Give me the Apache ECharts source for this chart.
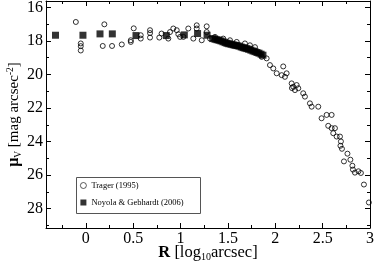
<!DOCTYPE html>
<html><head><meta charset="utf-8">
<script src="https://cdn.jsdelivr.net/npm/echarts@6/dist/echarts.min.js"></script>
<style>html,body{margin:0;padding:0;background:#fff}#c{width:374px;height:264px}</style>
</head><body><div id="c"></div>
<script>
// Trager (1995) open circles
const tragerX = [-0.105,-0.053,-0.053,-0.053,0.196,0.179,0.277,0.380,0.475,0.475,0.506,0.580,0.580,0.678,0.678,0.678,0.776,0.800,0.871,0.889,0.924,0.960,0.977,0.995,1.030,1.082,1.135,1.171,1.171,1.224,1.276,1.276,1.311,1.364,1.451,1.522,1.593,1.680,1.733,1.786,1.857,1.909,1.944,1.979,2.084,2.015,2.068,2.102,2.120,2.173,2.190,2.208,2.226,2.243,2.176,2.295,2.313,2.366,2.384,2.454,2.489,2.542,2.595,2.559,2.595,2.630,2.612,2.648,2.683,2.693,2.688,2.704,2.762,2.725,2.793,2.814,2.820,2.841,2.878,2.904,2.936,2.988];
const tragerY = [16.87,18.15,18.31,18.57,17.01,18.30,18.30,18.21,18.06,17.96,17.25,17.66,17.86,17.36,17.53,17.80,17.80,17.56,17.86,17.47,17.26,17.36,17.60,17.76,17.76,17.26,17.86,17.07,17.26,17.96,17.13,17.47,17.86,17.76,17.86,17.96,18.06,18.15,18.26,18.37,18.95,19.04,19.44,19.64,19.52,19.93,20.04,20.14,19.93,20.53,20.73,20.93,20.63,20.82,20.81,21.12,21.32,21.72,21.92,21.92,22.61,22.41,22.41,23.06,23.20,23.20,23.50,23.70,23.70,23.99,24.25,24.43,24.72,25.18,25.08,25.44,25.67,25.85,25.77,25.87,26.56,27.63];
// Noyola & Gebhardt (2006) filled squares
const noyolaX = [-0.32,-0.03,0.15,0.28,0.53,0.85,1.04,1.18,1.28,1.34,1.364,1.385,1.406,1.427,1.448,1.47,1.49,1.51,1.533,1.555,1.575,1.596,1.617,1.64,1.66,1.68,1.70,1.72,1.743,1.765,1.786,1.807,1.828,1.85,1.87];
const noyolaY = [17.66,17.66,17.58,17.58,17.68,17.68,17.64,17.56,17.66,17.86,17.90,17.93,17.96,18.00,18.05,18.10,18.14,18.17,18.20,18.23,18.26,18.28,18.31,18.36,18.40,18.43,18.46,18.50,18.55,18.60,18.64,18.69,18.73,18.79,18.85];
const seriesNames = ['Trager (1995)', 'Noyola & Gebhardt (2006)'];
const xMajorTicks = [0,0.5,1,1.5,2,2.5,3];
const xMinorTicks = [-0.25,0.25,0.75,1.25,1.75,2.25,2.75];
const yMajorTicks = [16,18,20,22,24,26,28];
const yMinorTicks = [17,19,21,23,25,27,29];
const X_MIN = -0.42, X_MAX = 3.0, Y_MIN = 15.62, Y_MAX = 29.15;

const FONT = 'Liberation Serif';
const pair = (xs, ys) => xs.map((x, i) => [x, ys[i]]);

function axis(kind, position, ticks, len, opts) {
  const a = {
    type: 'value', gridIndex: 0, position: position,
    min: kind === 'x' ? X_MIN : Y_MIN, max: kind === 'x' ? X_MAX : Y_MAX,
    axisLine: {show: !!opts.line, onZero: false, lineStyle: {color: '#000', width: 1}},
    axisTick: {show: true, inside: true, length: len, customValues: ticks, lineStyle: {color: '#000', width: 1}},
    axisLabel: {show: false},
    splitLine: {show: false}
  };
  if (kind === 'y') a.inverse = true;
  if (opts.labels) {
    a.axisLabel = {show: true, customValues: ticks, fontFamily: FONT, fontSize: 16, color: '#000', margin: 3};
  }
  if (opts.name) Object.assign(a, opts.name);
  return a;
}

const chart = echarts.init(document.getElementById('c'), null, {renderer: 'canvas'});
chart.setOption({
  animation: false,
  backgroundColor: '#fff',
  grid: {left: 46, right: 4, top: 1, bottom: 36, containLabel: false, outerBoundsMode: 'none'},
  xAxis: [
    axis('x', 'bottom', xMajorTicks, 5, {line: true, labels: true, name: {
      name: '{b|R} [log{s|10}arcsec]', nameLocation: 'middle', nameGap: 15, nameMoveOverlap: false,
      nameTextStyle: {fontFamily: FONT, fontSize: 16.5, color: '#000',
        rich: {b: {fontFamily: FONT, fontSize: 16.5, fontWeight: 'bold', color: '#000'},
               s: {fontFamily: FONT, fontSize: 10, color: '#000', padding: [9, 0, 0, 0]}}}
    }}),
    axis('x', 'bottom', xMinorTicks, 3, {}),
    axis('x', 'top', xMajorTicks, 5, {line: true}),
    axis('x', 'top', xMinorTicks, 3, {})
  ],
  yAxis: [
    axis('y', 'left', yMajorTicks, 5, {line: true, labels: true, name: {
      name: '{b|μ}{s|V} [mag arcsec{p|-2}]', nameLocation: 'middle', nameGap: 23, nameMoveOverlap: false,
      nameTextStyle: {fontFamily: FONT, fontSize: 15, color: '#000',
        rich: {b: {fontFamily: FONT, fontSize: 16, fontWeight: 'bold', color: '#000'},
               s: {fontFamily: FONT, fontSize: 9.5, color: '#000', padding: [8, 0, 0, 0]},
               p: {fontFamily: FONT, fontSize: 9.5, color: '#000', padding: [0, 0, 8, 0]}}}
    }}),
    axis('y', 'left', yMinorTicks, 3, {}),
    axis('y', 'right', yMajorTicks, 5, {line: true}),
    axis('y', 'right', yMinorTicks, 3, {})
  ],
  legend: {
    orient: 'vertical', left: 80, top: 181, itemWidth: 6, itemHeight: 6, itemGap: 8, itemTextGap: 13,
    padding: 0, z: 5,
    textStyle: {fontFamily: FONT, fontSize: 8.5, color: '#000'},
    data: [
      {name: seriesNames[0], itemStyle: {color: 'rgba(255,255,255,0)', borderColor: '#000', borderWidth: 0.8}},
      {name: seriesNames[1]}
    ]
  },
  graphic: [{
    type: 'rect', z: 4, silent: true,
    shape: {x: 76.5, y: 177.5, width: 124, height: 36},
    style: {fill: '#fff', stroke: '#555', lineWidth: 1}
  }],
  series: [
    {name: seriesNames[0], type: 'scatter', xAxisIndex: 0, yAxisIndex: 0, symbol: 'circle', symbolSize: 5,
     itemStyle: {color: 'rgba(255,255,255,0)', borderColor: '#000', borderWidth: 1}, data: pair(tragerX, tragerY)},
    {name: seriesNames[1], type: 'scatter', xAxisIndex: 0, yAxisIndex: 0, symbol: 'rect', symbolSize: 7,
     itemStyle: {color: '#000'}, data: pair(noyolaX, noyolaY)}
  ]
});
</script></body></html>
